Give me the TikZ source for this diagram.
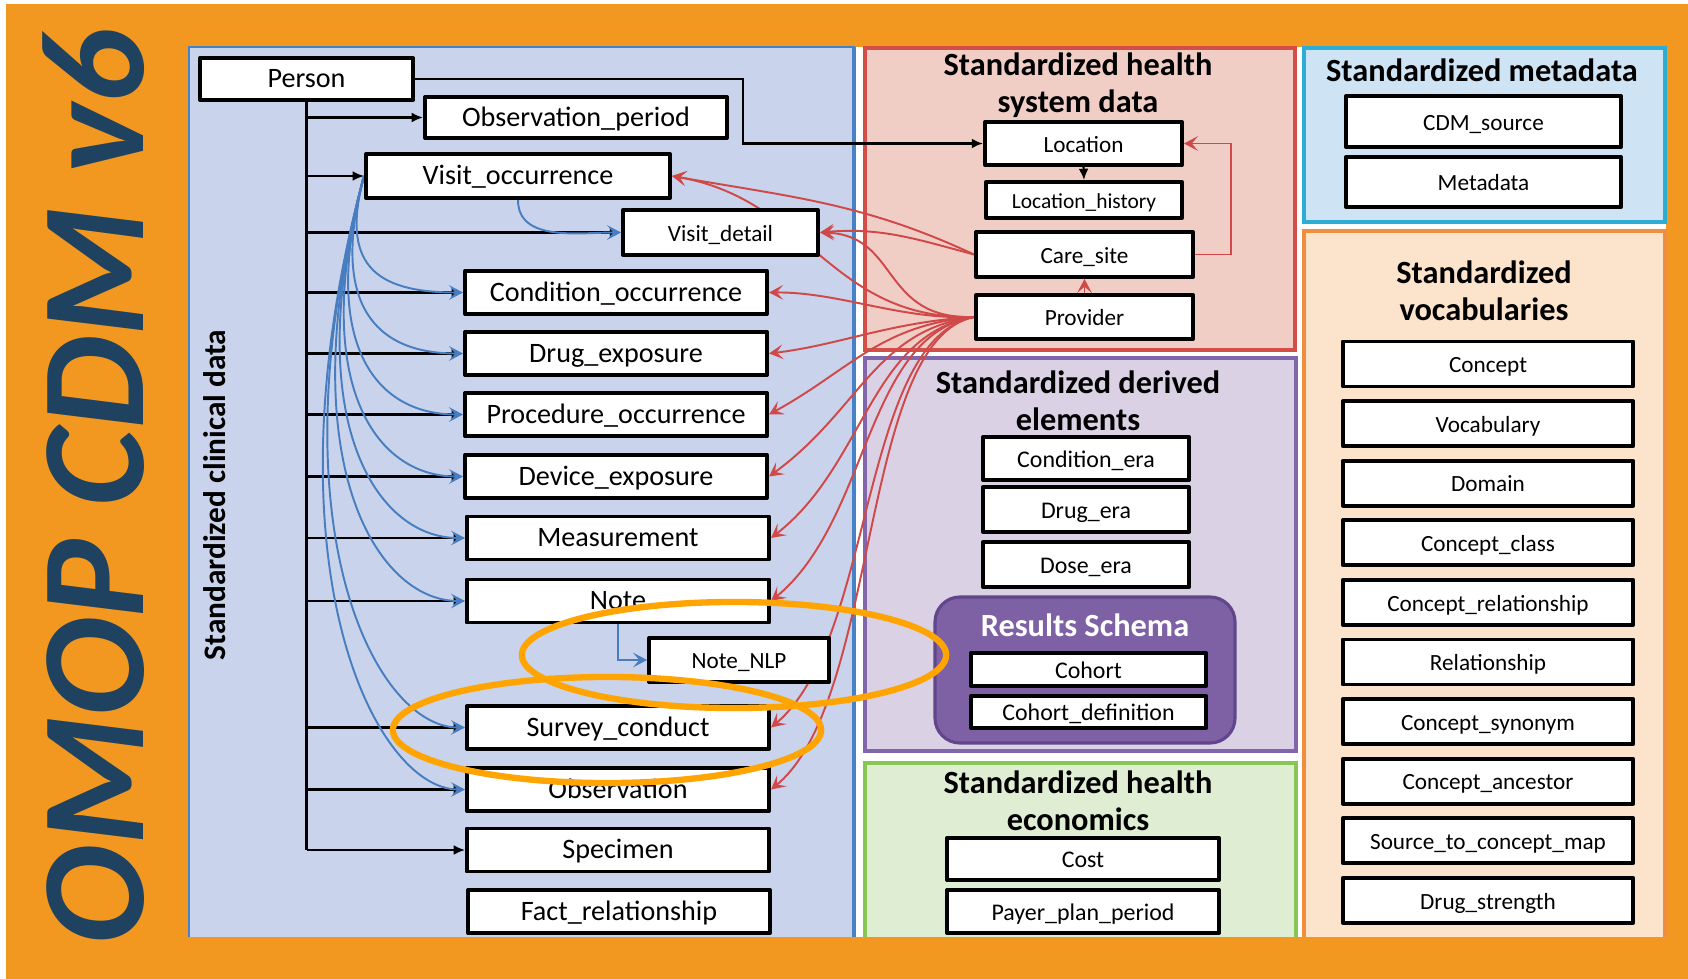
\documentclass[tikz,border=0pt]{standalone}
\usepackage{fontspec}
\setmainfont{Carlito}
\usetikzlibrary{arrows.meta}

\definecolor{bgorange}{RGB}{242,152,32}
\definecolor{navy}{RGB}{30,66,96}
\definecolor{clinfill}{RGB}{201,211,235}
\definecolor{clinline}{RGB}{70,130,200}
\definecolor{hsfill}{RGB}{240,206,198}
\definecolor{hsline}{RGB}{212,78,72}
\definecolor{dvfill}{RGB}{218,209,229}
\definecolor{dvline}{RGB}{130,102,172}
\definecolor{ecfill}{RGB}{223,237,211}
\definecolor{ecline}{RGB}{135,198,85}
\definecolor{mdfill}{RGB}{206,227,243}
\definecolor{mdline}{RGB}{45,172,212}
\definecolor{vcfill}{RGB}{252,227,204}
\definecolor{vcline}{RGB}{240,142,62}
\definecolor{rsfill}{RGB}{126,96,165}
\definecolor{rsline}{RGB}{98,70,140}
\definecolor{curvered}{RGB}{208,72,72}
\definecolor{curveblue}{RGB}{72,126,192}
\definecolor{hiorange}{RGB}{255,164,0}

\pgfdeclarelayer{back}
\pgfdeclarelayer{mid}
\pgfdeclarelayer{top}
\pgfsetlayers{back,mid,main,top}

\tikzset{
  tbl/.style={draw=black, line width=1.1pt, fill=white, inner sep=0pt,
    text height=0.66em, text depth=0.17em,
    minimum width=3.02cm, minimum height=0.43cm, font=\fontsize{8}{9}\selectfont},
  tblsm/.style={tbl, font=\fontsize{6.6}{8}\selectfont},
  hdr/.style={align=center, inner sep=0pt, font=\fontsize{9.2}{10.5}\selectfont\bfseries},
  blk/.style={-{Latex[length=3.2pt,width=2.8pt]}, line width=0.6pt},
  rd/.style={-{Stealth[length=4pt,width=4.2pt,inset=1.8pt]}, draw=curvered, line width=0.55pt},
  blu/.style={-{Stealth[length=4pt,width=4.2pt,inset=1.8pt]}, draw=curveblue, line width=0.55pt},
  hilite/.style={draw=hiorange, line width=1.8pt},
}

\begin{document}
\begin{tikzpicture}[x=0.01cm,y=-0.01cm,line join=round]
  \useasboundingbox (0,0) rectangle (1688,979);

  % frame and panels
  \begin{pgfonlayer}{back}
    \fill[white] (0,0) rectangle (1688,979);
    \fill[bgorange] (6,4) rectangle (1688,979);
    \fill[white] (189,47) rectangle (1666,937);
    \fill[clinfill] (189,47) rectangle (855,937);
    \draw[clinline, line width=0.3pt] (189,937) |- (855,47);
    \draw[clinline, line width=1.1pt] (854,47) -- (854,937);
    \filldraw[fill=hsfill, draw=hsline, line width=0.9pt] (865,48) rectangle (1295,350);
    \filldraw[fill=dvfill, draw=dvline, line width=0.9pt] (865,358) rectangle (1296,751);
    \fill[ecfill] (865,763) rectangle (1296,937);
    \draw[ecline, line width=0.9pt] (865,937) |- (1296,763) -- (1296,937);
    \filldraw[fill=mdfill, draw=mdline, line width=0.9pt] (1304,48) rectangle (1665,222);
    \fill[vcfill] (1304,231) rectangle (1665,937);
    \draw[vcline, line width=0.9pt] (1304,937) |- (1665,231) -- (1665,937);
    \filldraw[fill=rsfill, draw=rsline, line width=0.9pt, rounded corners=0.25cm] (935,597) rectangle (1235,743);
  \end{pgfonlayer}

  \node[rotate=90, text=navy, inner sep=0pt, font=\fontsize{42}{42}\selectfont\bfseries\itshape] (title) at (94,487) {OMOP CDM v6};
  \node[rotate=90, inner sep=0pt, font=\fontsize{8.9}{10}\selectfont\bfseries] (clinlbl) at (215,495) {Standardized clinical data};

  % clinical tables
  \node[tbl, minimum width=2.13cm, minimum height=0.42cm] (person) at (306.5,79) {Person};
  \node[tbl, minimum height=0.41cm] (obsper) at (576,117.5) {Observation\_period};
  \node[tbl, minimum width=3.04cm, minimum height=0.44cm] (visitocc) at (518,176) {Visit\_occurrence};
  \node[tblsm, minimum width=1.95cm, minimum height=0.45cm] (visitdet) at (720.5,232.5) {Visit\_detail};
  \node[tbl] (cond) at (616,292.5) {Condition\_occurrence};
  \node[tbl] (drug) at (616,353.5) {Drug\_exposure};
  \node[tbl] (proc) at (616,414.5) {Procedure\_occurrence};
  \node[tbl] (dev) at (616,476.5) {Device\_exposure};
  \node[tbl] (meas) at (618,538) {Measurement};
  \node[tbl] (note) at (618,601) {Note};
  \node[tblsm, minimum width=1.8cm, minimum height=0.44cm] (notenlp) at (739,660) {Note\_NLP};
  \node[tbl] (survey) at (618,727.5) {Survey\_conduct};
  \node[tbl] (obs) at (618,789.5) {Observation};
  \node[tbl] (spec) at (618,850) {Specimen};
  \node[tbl] (fact) at (619,911.5) {Fact\_relationship};

  % health system
  \node[hdr] (hshdr) at (1078,85) {Standardized health\\system data};
  \node[tblsm, minimum width=1.97cm] (loc) at (1083.5,143.5) {Location};
  \node[tblsm, minimum width=1.96cm, minimum height=0.36cm, font=\fontsize{6.1}{7}\selectfont] (lochist) at (1084,200) {Location\_history};
  \node[tblsm, minimum width=2.17cm, minimum height=0.45cm] (care) at (1084.5,254.5) {Care\_site};
  \node[tblsm, minimum width=2.17cm, minimum height=0.44cm] (prov) at (1084.5,317) {Provider};

  % derived elements
  \node[hdr] (dvhdr) at (1078,401) {Standardized derived\\elements};
  \node[tblsm, minimum width=2.06cm, font=\fontsize{6.8}{8}\selectfont] (condera) at (1086,458.5) {Condition\_era};
  \node[tblsm, minimum width=2.06cm, minimum height=0.45cm, font=\fontsize{6.8}{8}\selectfont] (drugera) at (1086,509.5) {Drug\_era};
  \node[tblsm, minimum width=2.06cm, minimum height=0.45cm, font=\fontsize{6.8}{8}\selectfont] (doseera) at (1086,564.5) {Dose\_era};
  \node[hdr, text=white] (rshdr) at (1085,625) {Results Schema};
  \node[tblsm, minimum width=2.35cm, minimum height=0.33cm, font=\fontsize{6.8}{8}\selectfont] (cohort) at (1088.5,669.5) {Cohort};
  \node[tblsm, minimum width=2.35cm, minimum height=0.32cm, font=\fontsize{6.8}{8}\selectfont] (cohortdef) at (1088.5,712) {Cohort\_definition};

  % health economics
  \node[hdr] (echdr) at (1078,801) {Standardized health\\economics};
  \node[tblsm, minimum width=2.72cm, minimum height=0.42cm, font=\fontsize{6.8}{8}\selectfont] (cost) at (1083,859) {Cost};
  \node[tblsm, minimum width=2.72cm, minimum height=0.43cm, font=\fontsize{6.8}{8}\selectfont] (payer) at (1083,911.5) {Payer\_plan\_period};

  % metadata
  \node[hdr] (mdhdr) at (1482,70) {Standardized metadata};
  \node[tblsm, minimum width=2.75cm, minimum height=0.51cm] (cdmsrc) at (1483.5,121.5) {CDM\_source};
  \node[tblsm, minimum width=2.75cm, minimum height=0.50cm] (meta) at (1483.5,182) {Metadata};

  % vocabularies
  \node[hdr] (vchdr) at (1484,291) {Standardized\\vocabularies};
  \foreach \nm [count=\i from 0] in {Concept, Vocabulary, Domain, Concept\_class,
      Concept\_relationship, Relationship, Concept\_synonym, Concept\_ancestor,
      Source\_to\_concept\_map, Drug\_strength}
    \node[tblsm, minimum width=2.9cm, minimum height=0.45cm] (voc\i) at (1488,{364+59.6*\i}) {\nm};

  % connectors
  \begin{pgfonlayer}{mid}
    \draw[line width=0.6pt] (person.south) -- (person.south |- spec.west);
    \foreach \n in {obsper,visitocc,visitdet,cond,drug,proc,dev,meas,note,survey,obs,spec}
      \draw[blk] (person.south |- \n.west) -- (\n.west);
    \coordinate (pbend) at (743,79);
    \draw[blk] (person.east) -- (pbend) |- (loc.west);
    \draw[blk] (loc.south) -- (lochist.north);
    \draw[rd] (care.east) -- ++(36,0) |- (loc.east);
    \draw[rd] (prov.north) -- (care.south);

    \draw[blu] (visitocc.south) to[out=-90,in=180] (visitdet.west);
    \foreach \n/\d in {cond/0.9, drug/1.3, proc/1.7, dev/2.1, meas/2.5, note/2.9, survey/3.6, obs/4.0}
      \draw[blu] (visitocc.west) to[out=255,in=180,out distance=\d cm,in distance=0.9cm] (\n.west);
    \draw[blu] (note.south) |- (notenlp.west);

    \draw[rd] (care.west) to[out=155,in=-10] (visitocc.east);
    \draw[rd] (care.west) to[out=165,in=5] (visitdet.east);
    \draw[rd] (prov.west) .. controls (830,320) and (810,200) .. (visitocc.east);
    \draw[rd] (prov.west) .. controls (880,320) and (900,235) .. (visitdet.east);
    \foreach \n/\ax/\ay/\bx/\by in {cond/900/320/840/292, drug/890/322/840/345,
        proc/880/325/850/370, dev/875/330/860/410, meas/870/335/865/465,
        note/865/335/870/520, survey/860/340/875/640, obs/860/340/880/700}
      \draw[rd] (prov.west) .. controls (\ax,\ay) and (\bx,\by) .. (\n.east);
  \end{pgfonlayer}

  % highlights
  \begin{pgfonlayer}{top}
    \draw[hilite] (734,655) ellipse [x radius=2.12cm, y radius=0.53cm];
    \draw[hilite] (607,730) ellipse [x radius=2.14cm, y radius=0.53cm];
  \end{pgfonlayer}
\end{tikzpicture}
\end{document}
